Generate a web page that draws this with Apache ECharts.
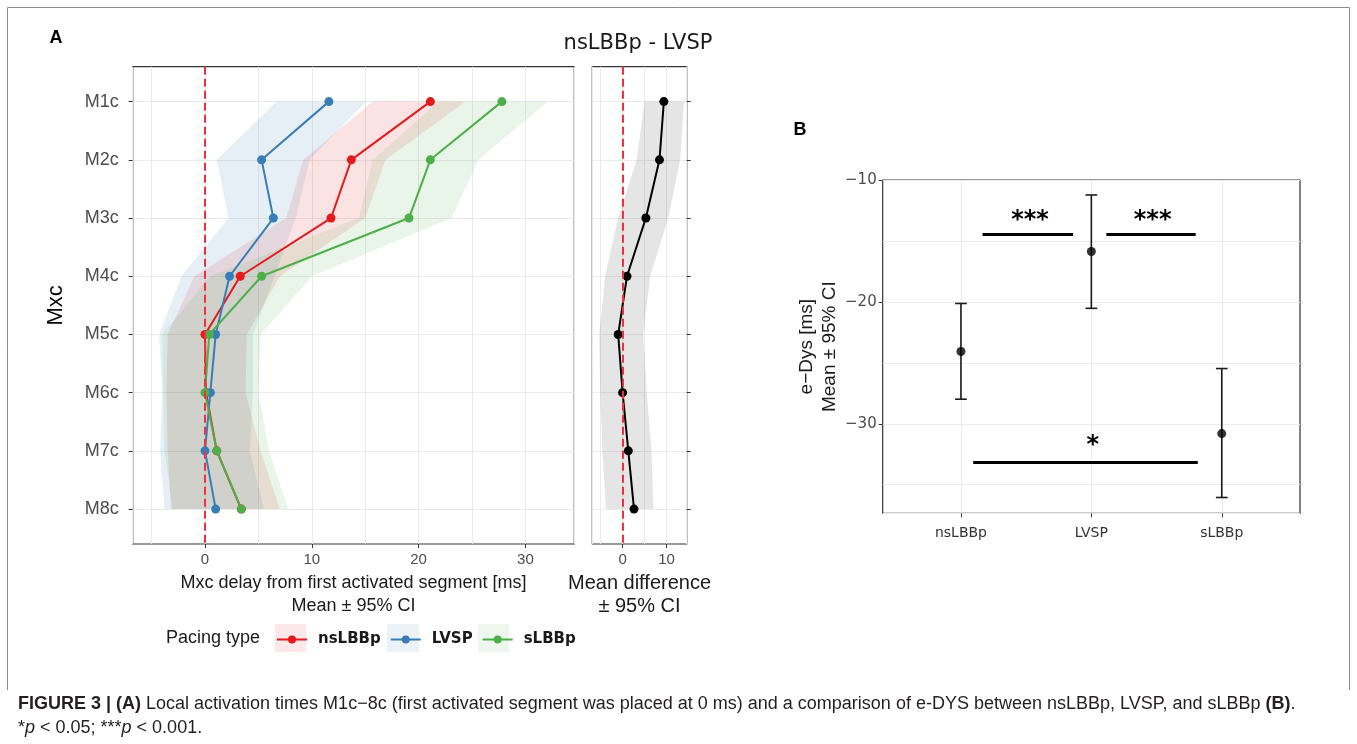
<!DOCTYPE html>
<html>
<head>
<meta charset="utf-8">
<title>Figure 3</title>
<script src="https://cdn.jsdelivr.net/npm/echarts@6/dist/echarts.min.js"></script>
<style>
  html, body { margin: 0; padding: 0; background: #fff; }
  #main { width: 1357px; height: 744px; }
</style>
</head>
<body>
<div id="main"></div>
<script>
// Panel A: segmentos (filas del eje y)
var segmentos = ['M1c', 'M2c', 'M3c', 'M4c', 'M5c', 'M6c', 'M7c', 'M8c'];
var filas = [1, 2, 3, 4, 5, 6, 7, 8];

// retraso medio e IC 95% [ms]
var nsLBBpMedia = [21.1, 13.7, 11.8, 3.3, 0.0, 0.1, 1.1, 3.4];
var nsLBBpBajo  = [15.7, 9.2, 7.6, -1.0, -3.5, -3.6, -3.5, -3.2];
var nsLBBpAlto  = [24.4, 16.9, 15.0, 7.0, 3.9, 3.8, 5.2, 7.0];

var lvspMedia = [11.6, 5.3, 6.4, 2.3, 1.0, 0.5, 0.0, 1.0];
var lvspBajo  = [6.7, 1.1, 2.2, -2.2, -4.3, -4.0, -4.2, -3.8];
var lvspAlto  = [15.1, 9.8, 8.5, 6.5, 4.5, 4.5, 4.2, 5.5];

var sLBBpMedia = [27.8, 21.1, 19.1, 5.3, 0.4, 0.0, 1.1, 3.4];
var sLBBpBajo  = [21.9, 15.7, 14.4, 0.5, -4.0, -3.9, -3.8, -3.0];
var sLBBpAlto  = [32.1, 25.6, 23.1, 10.0, 5.2, 5.0, 6.0, 7.8];

// diferencia nsLBBp - LVSP
var difMedia = [9.4, 8.4, 5.3, 1.0, -1.0, 0.0, 1.3, 2.6];
var difBajo  = [5.0, 3.2, -1.0, -4.0, -5.3, -5.1, -4.6, -3.8];
var difAlto  = [14.0, 13.1, 10.4, 6.3, 4.7, 5.5, 6.6, 7.0];

var ticksA = [0, 10, 20, 30];
var ticksDif = [0, 10];

// Panel B: e-Dys [ms]
var grupos = ['nsLBBp', 'LVSP', 'sLBBp'];
var eDysMedia = [-24.05, -15.83, -30.8];
var eDysBajo  = [-27.97, -20.5, -36.05];
var eDysAlto  = [-20.1, -11.18, -25.45];
var ticksB = [-30, -20, -10];

// significancia: [x inicio, x fin, y]
var sigLineas = [[1.166, 1.86, -14.44], [2.115, 2.80, -14.44], [1.094, 2.816, -33.17]];
var sigTextos = ['***', '***', '*'];
var sigX = [1.53, 2.47, 2.01];
var sigY = [-13.3, -13.3, -31.78];

var rojo = '#e41a1c', azul = '#377eb8', verde = '#4daf4a';
var fuente = '"Liberation Sans", Arial, sans-serif';
var fuenteAncha = '"DejaVu Sans", Verdana, sans-serif';
var rejilla = '#ebebeb';

function puntos(valores) {
  return filas.map(function (f, i) { return [valores[i], f]; });
}

// cinta horizontal del IC, un solo poligono por serie
function banda(bajo, alto, color, xi, yi) {
  var datos = filas.map(function (f, i) { return [bajo[i], alto[i], f]; });
  return {
    type: 'custom', xAxisIndex: xi, yAxisIndex: yi, silent: true, z: 1,
    encode: { x: [0, 1], y: 2 },
    data: datos,
    renderItem: function (params, api) {
      if (params.dataIndex !== 0) return null;
      var izq = [], der = [];
      for (var k = 0; k < datos.length; k++) {
        izq.push(api.coord([datos[k][0], datos[k][2]]));
        der.unshift(api.coord([datos[k][1], datos[k][2]]));
      }
      return { type: 'polygon', shape: { points: izq.concat(der) }, style: { fill: color } };
    }
  };
}

function linea(nombre, valores, color, xi, yi) {
  return {
    name: nombre, type: 'line', xAxisIndex: xi, yAxisIndex: yi, z: 3,
    data: puntos(valores),
    symbol: 'circle', symbolSize: 9,
    itemStyle: { color: color },
    lineStyle: { color: color, width: 2 },
    emphasis: { disabled: true },
    animation: false
  };
}

var lineaCero = {
  silent: true, symbol: ['none', 'none'],
  label: { show: false },
  lineStyle: { color: '#f2303c', type: [8, 4], width: 2 },
  data: [{ xAxis: 0 }]
};

function ejeRejilla(grid, min, max, n, pos) {
  return {
    gridIndex: grid, type: 'value', min: min, max: max, splitNumber: n, position: pos,
    axisLine: { show: false, onZero: false }, axisTick: { show: false }, axisLabel: { show: false },
    splitLine: { show: true, lineStyle: { color: rejilla, width: 1 } }
  };
}

function main() {
  var chartDom = document.getElementById('main');
  var myChart = echarts.init(chartDom);

  var serieB = linea('sLBBp', sLBBpMedia, verde, 0, 0);
  serieB.markLine = lineaCero;
  var serieDif = linea('dif', difMedia, '#000', 2, 1);
  serieDif.markLine = lineaCero;

  var option = {
    backgroundColor: '#ffffff',
    animation: false,
    grid: [
      { left: 132.7, top: 66.7, width: 441.6, height: 477.3, show: true, borderColor: '#333', borderWidth: 1.2, outerBoundsMode: 'none' },
      { left: 592.3, top: 66.7, width: 94.4, height: 477.3, show: true, borderColor: '#333', borderWidth: 1.2, outerBoundsMode: 'none' },
      { left: 882.7, top: 180, width: 417.3, height: 333.3, show: true, borderColor: '#333', borderWidth: 1.2, outerBoundsMode: 'none' }
    ],
    xAxis: [
      {
        gridIndex: 0, type: 'value', min: -6.77, max: 34.58, position: 'bottom',
        axisLine: { show: false, onZero: false }, splitLine: { show: false },
        axisTick: { customValues: ticksA, length: 4, lineStyle: { color: '#333' } },
        axisLabel: { customValues: ticksA, color: '#4d4d4d', fontSize: 15, fontFamily: fuente, margin: 8 },
        name: 'Mxc delay from first activated segment [ms]\nMean ± 95% CI',
        nameLocation: 'middle', nameGap: 26,
        nameTextStyle: { fontSize: 18, fontFamily: fuente, color: '#1a1a1a', lineHeight: 23 }
      },
      ejeRejilla(0, -6.77, 34.58, 8, 'top'),
      {
        gridIndex: 1, type: 'value', min: -6.9, max: 14.6, position: 'bottom',
        axisLine: { show: false, onZero: false }, splitLine: { show: false },
        axisTick: { customValues: ticksDif, length: 4, lineStyle: { color: '#333' } },
        axisLabel: { customValues: ticksDif, color: '#4d4d4d', fontSize: 15, fontFamily: fuente, margin: 8 },
        name: 'Mean difference\n± 95% CI',
        nameLocation: 'middle', nameGap: 26,
        nameTextStyle: { fontSize: 20, fontFamily: fuente, color: '#1a1a1a', lineHeight: 23 }
      },
      ejeRejilla(1, -6.9, 14.6, 4, 'top'),
      {
        gridIndex: 2, type: 'value', min: 0.4, max: 3.6, splitNumber: 3,
        axisLine: { show: false, onZero: false },
        axisTick: { customValues: [1, 2, 3], length: 4, lineStyle: { color: '#333' } },
        axisLabel: {
          customValues: [1, 2, 3], color: '#333', fontSize: 14, fontFamily: fuenteAncha, margin: 13,
          formatter: function (v) { return grupos[Math.round(v) - 1]; }
        },
        splitLine: { show: true, lineStyle: { color: rejilla, width: 1 } }
      }
    ],
    yAxis: [
      {
        gridIndex: 0, type: 'value', min: 0.4, max: 8.6, inverse: true, splitNumber: 8,
        axisLine: { show: false, onZero: false },
        axisTick: { customValues: filas, length: 4, lineStyle: { color: '#333' } },
        axisLabel: {
          customValues: filas, color: '#4d4d4d', fontSize: 18, fontFamily: fuente, margin: 14,
          formatter: function (v) { return segmentos[Math.round(v) - 1]; }
        },
        splitLine: { show: true, lineStyle: { color: rejilla, width: 1 } },
        name: 'Mxc', nameLocation: 'middle', nameGap: 66,
        nameTextStyle: { fontSize: 22, fontFamily: fuente, color: '#000' }
      },
      {
        gridIndex: 1, type: 'value', min: 0.4, max: 8.6, inverse: true, splitNumber: 8, position: 'right',
        axisLine: { show: false, onZero: false },
        axisTick: { customValues: filas, length: 4, lineStyle: { color: '#333' } },
        axisLabel: { show: false },
        splitLine: { show: true, lineStyle: { color: rejilla, width: 1 } }
      },
      {
        gridIndex: 2, type: 'value', min: -37.35, max: -9.95,
        axisLine: { show: false, onZero: false }, splitLine: { show: false },
        axisTick: { customValues: ticksB, length: 4, lineStyle: { color: '#333' } },
        axisLabel: {
          customValues: ticksB, color: '#4d4d4d', fontSize: 15, fontFamily: fuenteAncha, margin: 6,
          formatter: function (v) { return '\u2212' + Math.abs(v); }
        },
        name: 'e\u2212Dys [ms]\nMean ± 95% CI', nameLocation: 'middle', nameGap: 39,
        nameTextStyle: { fontSize: 19, fontFamily: fuente, color: '#1a1a1a', lineHeight: 23 }
      },
      ejeRejilla(2, -37.35, -9.95, 5, 'right')
    ],
    legend: {
      data: ['nsLBBp', 'LVSP', 'sLBBp'],
      left: 276, top: 632, padding: 0,
      itemWidth: 30, itemHeight: 10, itemGap: 9,
      selectedMode: false,
      formatter: '{t|{name}}',
      textStyle: {
        rich: { t: { padding: [0, 0, 0, 6], fontSize: 15, fontWeight: 'bold', fontFamily: fuenteAncha, color: '#1a1a1a', lineHeight: 20 } }
      }
    },
    graphic: [
      { type: 'polyline', shape: { points: [[7.5, 690], [7.5, 7.5], [1349.5, 7.5], [1349.5, 690]] }, style: { stroke: '#8c8c8c', lineWidth: 1, fill: null } },
      { type: 'text', x: 56, y: 38, style: { text: 'A', fontSize: 18, fontWeight: 'bold', fontFamily: fuente, fill: '#000', align: 'center', verticalAlign: 'middle' } },
      { type: 'text', x: 800, y: 130, style: { text: 'B', fontSize: 18, fontWeight: 'bold', fontFamily: fuente, fill: '#000', align: 'center', verticalAlign: 'middle' } },
      { type: 'text', x: 638, y: 44, style: { text: 'nsLBBp - LVSP', fontSize: 21, fontFamily: fuenteAncha, fill: '#1a1a1a', align: 'center', verticalAlign: 'middle' } },
      { type: 'text', x: 166, y: 638, style: { text: 'Pacing type', fontSize: 18, fontFamily: fuente, fill: '#1a1a1a', align: 'left', verticalAlign: 'middle' } },
      { type: 'rect', shape: { x: 275, y: 624, width: 31, height: 28 }, style: { fill: 'rgba(228,26,28,0.1)' }, z: -1 },
      { type: 'rect', shape: { x: 387, y: 624, width: 32, height: 28 }, style: { fill: 'rgba(55,126,184,0.1)' }, z: -1 },
      { type: 'rect', shape: { x: 478, y: 624, width: 31, height: 28 }, style: { fill: 'rgba(77,175,74,0.1)' }, z: -1 },
      {
        type: 'text', x: 18, y: 704,
        style: {
          text: '{b|FIGURE 3 | (A)}{n| Local activation times M1c\u22128c (first activated segment was placed at 0 ms) and a comparison of e-DYS between nsLBBp, LVSP, and sLBBp }{b|(B)}{n|.}',
          fontSize: 18, fontFamily: fuente, fill: '#231f20', align: 'left', verticalAlign: 'middle',
          rich: {
            b: { fontSize: 18, fontFamily: fuente, fontWeight: 'bold', fill: '#231f20' },
            n: { fontSize: 18, fontFamily: fuente, fill: '#231f20' }
          }
        }
      },
      {
        type: 'text', x: 18, y: 728,
        style: {
          text: '{n|*}{i|p}{n| < 0.05; ***}{i|p}{n| < 0.001.}',
          fontSize: 18, fontFamily: fuente, fill: '#231f20', align: 'left', verticalAlign: 'middle',
          rich: {
            i: { fontSize: 18, fontFamily: fuente, fontStyle: 'italic', fill: '#231f20' },
            n: { fontSize: 18, fontFamily: fuente, fill: '#231f20' }
          }
        }
      }
    ],
    series: [
      banda(nsLBBpBajo, nsLBBpAlto, 'rgba(228,26,28,0.12)', 0, 0),
      banda(lvspBajo, lvspAlto, 'rgba(55,126,184,0.12)', 0, 0),
      banda(sLBBpBajo, sLBBpAlto, 'rgba(77,175,74,0.12)', 0, 0),
      linea('nsLBBp', nsLBBpMedia, rojo, 0, 0),
      linea('LVSP', lvspMedia, azul, 0, 0),
      serieB,
      banda(difBajo, difAlto, 'rgba(0,0,0,0.1)', 2, 1),
      serieDif,
      {
        // barras de error panel B
        type: 'custom', xAxisIndex: 4, yAxisIndex: 2, z: 3,
        encode: { x: 0, y: [1, 2] },
        data: grupos.map(function (g, i) { return [i + 1, eDysBajo[i], eDysAlto[i]]; }),
        renderItem: function (params, api) {
          var x = api.value(0);
          var abajo = api.coord([x, api.value(1)]);
          var arriba = api.coord([x, api.value(2)]);
          var media = api.size([0.09, 0])[0] / 2;
          var estilo = { stroke: '#1a1a1a', lineWidth: 1.6 };
          return {
            type: 'group', children: [
              { type: 'line', shape: { x1: arriba[0], y1: arriba[1], x2: abajo[0], y2: abajo[1] }, style: estilo },
              { type: 'line', shape: { x1: arriba[0] - media, y1: arriba[1], x2: arriba[0] + media, y2: arriba[1] }, style: estilo },
              { type: 'line', shape: { x1: abajo[0] - media, y1: abajo[1], x2: abajo[0] + media, y2: abajo[1] }, style: estilo }
            ]
          };
        }
      },
      {
        type: 'scatter', xAxisIndex: 4, yAxisIndex: 2, z: 4,
        data: grupos.map(function (g, i) { return [i + 1, eDysMedia[i]]; }),
        symbol: 'circle', symbolSize: 9, itemStyle: { color: '#000' }
      },
      {
        type: 'custom', xAxisIndex: 4, yAxisIndex: 2, z: 4,
        encode: { x: [0, 1], y: 2 },
        data: sigLineas,
        renderItem: function (params, api) {
          var a = api.coord([api.value(0), api.value(2)]);
          var b = api.coord([api.value(1), api.value(2)]);
          return { type: 'line', shape: { x1: a[0], y1: a[1], x2: b[0], y2: b[1] }, style: { stroke: '#000', lineWidth: 3 } };
        }
      },
      {
        type: 'custom', xAxisIndex: 4, yAxisIndex: 2, z: 4,
        encode: { x: 0, y: 1 },
        data: sigTextos.map(function (t, i) { return [sigX[i], sigY[i]]; }),
        renderItem: function (params, api) {
          var c = api.coord([api.value(0), api.value(1)]);
          return {
            type: 'text', x: c[0], y: c[1],
            style: { text: sigTextos[params.dataIndex], fontSize: 24, fontWeight: 'bold', fontFamily: fuenteAncha, fill: '#000', align: 'center', verticalAlign: 'middle' }
          };
        }
      }
    ]
  };

  myChart.setOption(option);
}

main();
</script>
</body>
</html>
